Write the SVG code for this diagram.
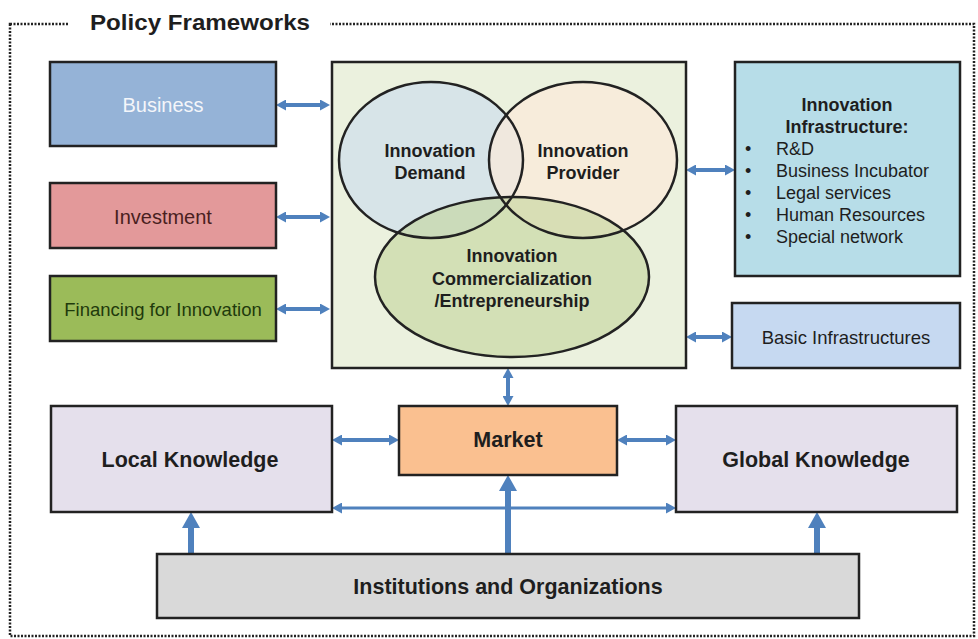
<svg xmlns="http://www.w3.org/2000/svg" width="978" height="639" viewBox="0 0 978 639">
<style>
text{font-family:"Liberation Sans",Arial,sans-serif;fill:#1e1e1e}
.b{font-weight:bold}
.box{stroke:#222;stroke-width:2.5}
.c{text-anchor:middle}
.conn{stroke:#4f81bd;fill:none}
.thin{stroke-width:4}
.line{stroke-width:3}
.thick{stroke-width:6}
.ell{fill:none;stroke:#222;stroke-width:2.5}
</style>
<defs>
<marker id="ah" viewBox="0 0 10 11" refX="4" refY="5.5" markerWidth="10" markerHeight="11" markerUnits="userSpaceOnUse" orient="auto-start-reverse">
<path d="M0,0 L10,5.5 L0,11 z" fill="#4f81bd"/>
</marker>
<marker id="ahBig" viewBox="0 0 16 18" refX="6" refY="9" markerWidth="16" markerHeight="18" markerUnits="userSpaceOnUse" orient="auto">
<path d="M0,0 L16,9 L0,18 z" fill="#4f81bd"/>
</marker>
</defs>
<rect width="978" height="639" fill="#fff"/>
<rect x="10" y="24" width="964" height="612" fill="none" stroke="#222" stroke-width="2.5" stroke-dasharray="2 1.5"/>
<g id="title">
<rect x="68" y="6" width="262" height="36" fill="#fff"/>
<text x="90" y="30" class="b" font-size="22" textLength="220" lengthAdjust="spacingAndGlyphs">Policy Frameworks</text>
</g>

<g id="connectors">
<line id="c-business" class="conn thin" x1="282" y1="105" x2="324" y2="105" marker-start="url(#ah)" marker-end="url(#ah)"/>
<line id="c-investment" class="conn thin" x1="282" y1="217" x2="324" y2="217" marker-start="url(#ah)" marker-end="url(#ah)"/>
<line id="c-financing" class="conn thin" x1="282" y1="309" x2="324" y2="309" marker-start="url(#ah)" marker-end="url(#ah)"/>
<line id="c-infra" class="conn thin" x1="692" y1="170" x2="729" y2="170" marker-start="url(#ah)" marker-end="url(#ah)"/>
<line id="c-basic" class="conn thin" x1="692" y1="337" x2="726" y2="337" marker-start="url(#ah)" marker-end="url(#ah)"/>
<line id="c-central-market" class="conn thin" x1="508" y1="374" x2="508" y2="400" marker-start="url(#ah)" marker-end="url(#ah)"/>
<line id="c-local-market" class="conn thin" x1="338" y1="440" x2="393" y2="440" marker-start="url(#ah)" marker-end="url(#ah)"/>
<line id="c-market-global" class="conn thin" x1="623" y1="440" x2="670" y2="440" marker-start="url(#ah)" marker-end="url(#ah)"/>
<line id="c-local-global" class="conn line" x1="338" y1="508" x2="670" y2="508" marker-start="url(#ah)" marker-end="url(#ah)"/>
<line id="c-inst-market" class="conn thick" x1="508" y1="554" x2="508" y2="485" marker-end="url(#ahBig)"/>
<line id="c-inst-local" class="conn thick" x1="191" y1="554" x2="191" y2="522" marker-end="url(#ahBig)"/>
<line id="c-inst-global" class="conn thick" x1="817" y1="554" x2="817" y2="522" marker-end="url(#ahBig)"/>
</g>

<g id="business">
<rect class="box" x="50" y="62" width="226" height="84" fill="#95b3d7"/>
<text class="c" x="163" y="112" font-size="20" style="fill:#f4f6fa">Business</text>
</g>
<g id="investment">
<rect class="box" x="50" y="183" width="226" height="65" fill="#e3999a"/>
<text class="c" x="163" y="224" font-size="20" style="fill:#4a1f1f">Investment</text>
</g>
<g id="financing">
<rect class="box" x="50" y="276" width="226" height="65" fill="#9bbb59"/>
<text class="c" x="163" y="315.5" font-size="18.5" style="fill:#1f3a0c">Financing for Innovation</text>
</g>

<g id="innovation-system">
<rect class="box" x="332" y="62" width="354" height="306" fill="#ebf1de"/>
<ellipse cx="431" cy="160" rx="92" ry="78" fill="#c6d9f1" fill-opacity="0.55"/>
<ellipse cx="583" cy="160" rx="94" ry="78" fill="#fde9d9" fill-opacity="0.65"/>
<ellipse cx="512" cy="277" rx="137" ry="80" fill="#c3d69b" fill-opacity="0.6"/>
<ellipse class="ell" cx="431" cy="160" rx="92" ry="78"/>
<ellipse class="ell" cx="583" cy="160" rx="94" ry="78"/>
<ellipse class="ell" cx="512" cy="277" rx="137" ry="80"/>
<g id="innovation-demand">
<text class="c b" x="430" y="156.5" font-size="18">Innovation</text>
<text class="c b" x="430" y="178.5" font-size="18">Demand</text>
</g>
<g id="innovation-provider">
<text class="c b" x="583" y="156.5" font-size="18">Innovation</text>
<text class="c b" x="583" y="178.5" font-size="18">Provider</text>
</g>
<g id="innovation-commercialization">
<text class="c b" x="512" y="261.5" font-size="18">Innovation</text>
<text class="c b" x="512" y="284.5" font-size="18">Commercialization</text>
<text class="c b" x="512" y="306.5" font-size="18">/Entrepreneurship</text>
</g>
</g>

<g id="innovation-infrastructure">
<rect class="box" x="735" y="62" width="225" height="214" fill="#b7dde8"/>
<text class="c b" x="847" y="110.5" font-size="18">Innovation</text>
<text class="c b" x="847" y="132.5" font-size="18">Infrastructure:</text>
<g font-size="18">
<text x="745" y="154.5">•</text><text x="776" y="154.5">R&amp;D</text>
<text x="745" y="176.5">•</text><text x="776" y="176.5">Business Incubator</text>
<text x="745" y="198.5">•</text><text x="776" y="198.5">Legal services</text>
<text x="745" y="220.5">•</text><text x="776" y="220.5">Human Resources</text>
<text x="745" y="243">•</text><text x="776" y="243">Special network</text>
</g>
</g>
<g id="basic-infrastructures">
<rect class="box" x="732" y="303" width="228" height="65" fill="#c6d9f1"/>
<text class="c" x="846" y="343.5" font-size="18.5">Basic Infrastructures</text>
</g>

<g id="local-knowledge">
<rect class="box" x="51" y="406" width="281" height="106" fill="#e5e0ec"/>
<text class="c b" x="190" y="467" font-size="21.5">Local Knowledge</text>
</g>
<g id="market">
<rect class="box" x="399" y="406" width="218" height="69" fill="#fac090"/>
<text class="c b" x="508" y="447" font-size="21.5">Market</text>
</g>
<g id="global-knowledge">
<rect class="box" x="676" y="406" width="281" height="106" fill="#e5e0ec"/>
<text class="c b" x="816" y="467" font-size="21.5">Global Knowledge</text>
</g>
<g id="institutions">
<rect class="box" x="157" y="554" width="702" height="64" fill="#d9d9d9"/>
<text class="c b" x="508" y="594" font-size="21.5">Institutions and Organizations</text>
</g>
</svg>
